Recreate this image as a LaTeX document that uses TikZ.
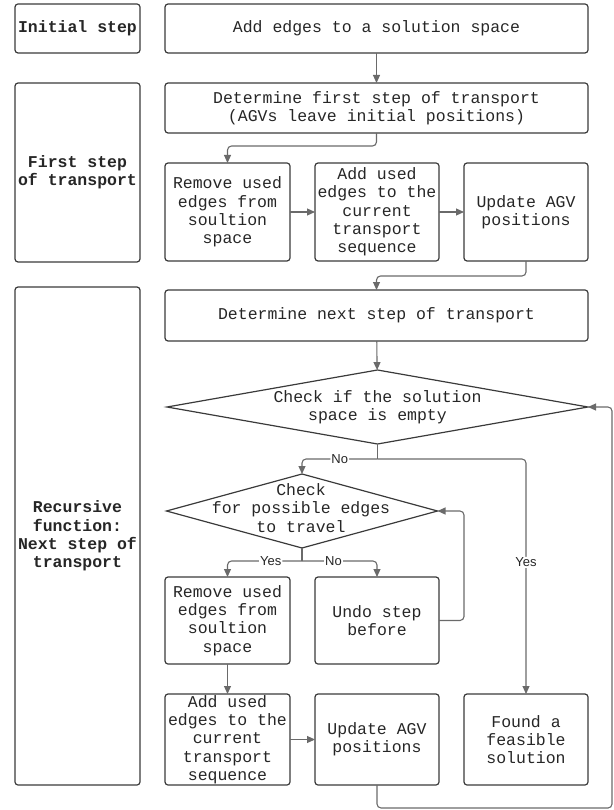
\documentclass[tikz,border=0pt]{standalone}
\usepackage{fontspec}
\newfontfamily\monofont{Liberation Mono}
\newfontfamily\lblfont{Liberation Sans}
\usetikzlibrary{shapes.geometric,arrows.meta}
\definecolor{boxline}{HTML}{3A3A3A}
\definecolor{arrline}{HTML}{6A6A6A}
\begin{document}
\begin{tikzpicture}[x=1pt, y=-1pt,
    box/.style={draw=boxline, line width=1.2pt, rounded corners=3pt, align=center,
        inner sep=0pt, outer sep=0pt, text=black!85,
        font=\monofont\fontsize{16.5}{18.3}\selectfont},
    phase/.style={box, font=\monofont\bfseries\fontsize{16.5}{18.3}\selectfont, minimum width=125},
    decision/.style={draw=boxline, line width=1.2pt, diamond, inner sep=0pt, outer sep=0pt},
    dtext/.style={align=center, text=black!85, font=\monofont\fontsize{16.5}{18.3}\selectfont},
    arr/.style={draw=arrline, line width=1.1pt, rounded corners=4pt,
        -{Triangle[length=8pt,width=7pt]}},
    lbl/.style={fill=white, inner sep=1pt, text=black!85, font=\lblfont\fontsize{13}{15}\selectfont}]
    \useasboundingbox (0,0) rectangle (613,810);

    % Phasen links
    \node[phase, minimum height=49] (initlbl) at (77.5,28.5) {Initial step};
    \node[phase, minimum height=179] (firstlbl) at (77.5,172.5) {First step\\of transport};
    \node[phase, minimum height=498] (reclbl) at (77.5,536) {Recursive\\function:\\Next step of\\transport};

    % Initialer Schritt
    \node[box, minimum width=423, minimum height=49] (addedges) at (376.5,28.5) {Add edges to a solution space};

    % Erster Transportschritt
    \node[box, minimum width=423, minimum height=50] (detfirst) at (376.5,108)
        {Determine first step of transport\\(AGVs leave initial positions)};
    \node[box, minimum width=125, minimum height=98] (remove1) at (227.5,212)
        {Remove used\\edges from\\soultion\\space};
    \node[box, minimum width=124, minimum height=98] (addused1) at (377,212)
        {Add used\\edges to the\\current\\transport\\sequence};
    \node[box, minimum width=124, minimum height=98] (update1) at (526,212)
        {Update AGV\\positions};

    % Rekursive Funktion
    \node[box, minimum width=423, minimum height=51] (detnext) at (376.5,315.5)
        {Determine next step of transport};
    \node[decision, minimum width=421, minimum height=74] (check1) at (377.5,407) {};
    \node[dtext] (check1txt) at (check1) {Check if the solution\\space is empty};
    \node[decision, minimum width=271, minimum height=74] (check2) at (302,511) {};
    \node[dtext] (check2txt) at (301,508) {Check\\for possible edges\\to travel};
    \node[box, minimum width=125, minimum height=87] (remove2) at (227.5,620.5)
        {Remove used\\edges from\\soultion\\space};
    \node[box, minimum width=124, minimum height=87] (undo) at (377,620.5)
        {Undo step\\before};
    \node[box, minimum width=125, minimum height=91] (addused2) at (227.5,739.5)
        {Add used\\edges to the\\current\\transport\\sequence};
    \node[box, minimum width=124, minimum height=91] (update2) at (377,739.5)
        {Update AGV\\positions};
    \node[box, minimum width=124, minimum height=91] (found) at (526,739.5)
        {Found a\\feasible\\solution};

    % Verbindungen
    \draw[arr] (addedges) -- (detfirst);
    \draw[arr] (detfirst.south) -- ++(0,13) -| (remove1.north);
    \draw[arr] (remove1) -- (addused1);
    \draw[arr] (addused1) -- (update1);
    \draw[arr] (update1.south) -- ++(0,15) -| (detnext.north);
    \draw[arr] (detnext) -- (check1);

    \coordinate (split1) at ([yshift=-15pt]check1.south);
    \draw[arr, -] (check1.south) -- (split1);
    \draw[arr] (split1) -| node[lbl, pos=0.25] {No} (check2.north);
    \draw[arr] (split1) -| node[lbl, pos=0.72] {Yes} (found.north);

    \coordinate (split2) at ([yshift=-13pt]check2.south);
    \draw[arr, -] (check2.south) -- (split2);
    \draw[arr] (split2) -| node[lbl, pos=0.21] {Yes} (remove2.north);
    \draw[arr] (split2) -| node[lbl, pos=0.21] {No} (undo.north);
    \draw[arr] (undo.east) -- ++(25,0) |- (check2.east);

    \draw[arr] (remove2) -- (addused2);
    \draw[arr] (addused2) -- (update2);
    \coordinate (loopback) at (612,407);
    \draw[arr] (update2.south) -- ++(0,23) -| (loopback) -- (check1.east);
\end{tikzpicture}
\end{document}
